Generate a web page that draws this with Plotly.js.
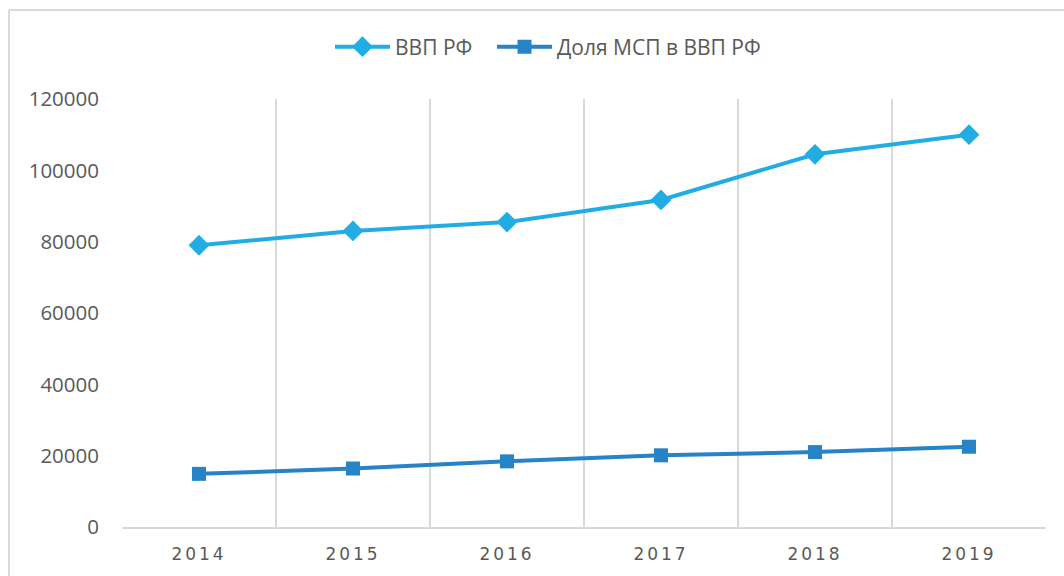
<!DOCTYPE html>
<html>
<head>
<meta charset="utf-8">
<script src="https://cdn.plot.ly/plotly-3.0.1.min.js"></script>
<style>
  html, body { margin: 0; padding: 0; background: #fff; }
  #chart { width: 1064px; height: 576px; }
  .xtick text { letter-spacing: 3px; }
</style>
</head>
<body>
<div id="chart"></div>
<script>
const years = ['2014', '2015', '2016', '2017', '2018', '2019'];
const gdp = [79000, 83000, 85500, 91700, 104500, 110000];
const smeShare = [14900, 16400, 18400, 20100, 21000, 22500];
const seriesNames = ['ВВП РФ', 'Доля МСП в ВВП РФ'];
const yTicks = [0, 20000, 40000, 60000, 80000, 100000, 120000];

const W = 1064, H = 576;
const m = { l: 122, r: 18, t: 99, b: 49 };
const pw = W - m.l - m.r, ph = H - m.t - m.b;
const px = x => (x - m.l) / pw;
const py = y => (H - m.b - y) / ph;

const traces = [
  {
    x: years, y: gdp, name: seriesNames[0], type: 'scatter', mode: 'lines+markers',
    line: { color: '#21ADE3', width: 4 },
    marker: { symbol: 'diamond', size: 16, color: '#21ADE3' },
    legend: 'legend'
  },
  {
    x: years, y: smeShare, name: seriesNames[1], type: 'scatter', mode: 'lines+markers',
    line: { color: '#2683C6', width: 4 },
    marker: { symbol: 'square', size: 14, color: '#2683C6' },
    legend: 'legend2'
  }
];

const legendFont = { family: 'Open Sans, sans-serif', size: 21, color: '#595959' };
const layout = {
  width: W, height: H,
  margin: m,
  paper_bgcolor: '#ffffff', plot_bgcolor: '#ffffff',
  font: { family: 'Open Sans, sans-serif', size: 17, color: '#595959' },
  showlegend: true,
  legend: {
    orientation: 'h', x: px(330), xanchor: 'left', y: py(47), yanchor: 'middle',
    font: legendFont, itemwidth: 55
  },
  legend2: {
    orientation: 'h', x: px(492), xanchor: 'left', y: py(47), yanchor: 'middle',
    font: legendFont, itemwidth: 55
  },
  xaxis: {
    type: 'category', range: [-0.5, 5.5],
    tickson: 'boundaries', ticks: '', showgrid: true, gridcolor: '#d9d9d9', gridwidth: 2,
    showline: true, linecolor: '#d9d9d9', linewidth: 2,
    tickfont: { family: 'DejaVu Sans, sans-serif', size: 17, color: '#595959' },
    ticklabelstandoff: 11, fixedrange: true
  },
  yaxis: {
    range: [0, 120000], tickvals: yTicks, ticktext: yTicks.map(String),
    showgrid: false, zeroline: false, showline: false, ticks: '',
    tickfont: { family: 'Open Sans, sans-serif', size: 20.5, color: '#595959' },
    ticklabelstandoff: 22, fixedrange: true
  },
  shapes: [
    { type: 'line', xref: 'paper', yref: 'paper', x0: px(9), x1: px(9), y0: py(10), y1: py(590),
      line: { color: '#d9d9d9', width: 2 } },
    { type: 'line', xref: 'paper', yref: 'paper', x0: px(9), x1: px(1080), y0: py(10), y1: py(10),
      line: { color: '#d9d9d9', width: 2 } }
  ]
};

Plotly.newPlot('chart', traces, layout, { displayModeBar: false, staticPlot: true });
</script>
</body>
</html>
